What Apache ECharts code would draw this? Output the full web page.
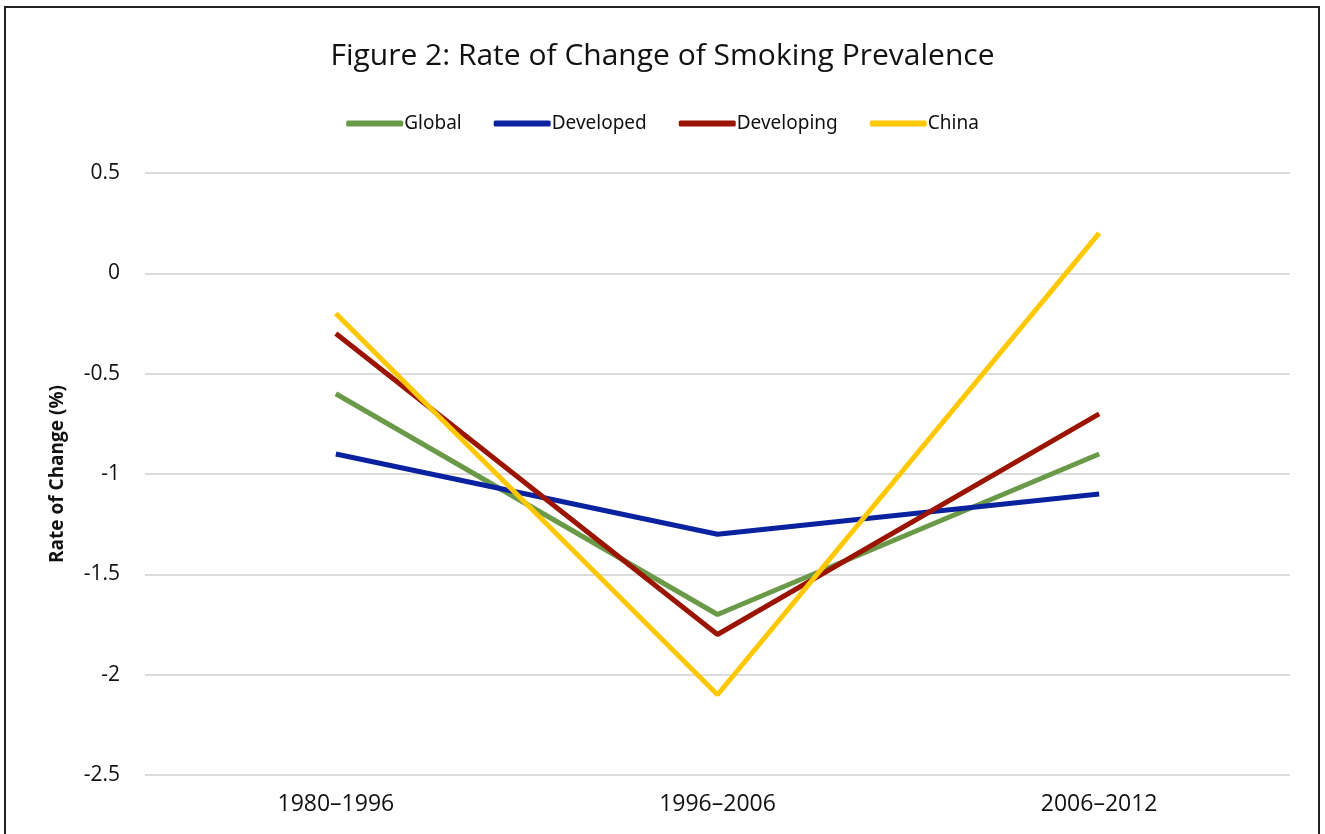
<!DOCTYPE html>
<html>
<head>
<meta charset="utf-8">
<script src="https://cdn.jsdelivr.net/npm/echarts@6/dist/echarts.min.js"></script>
<style>
  html, body { margin: 0; padding: 0; background: #fff; }
  #chart { width: 1325px; height: 834px; }
  #frame { position: absolute; left: 4px; top: 6px; width: 1312px; height: 840px;
           border: 2px solid #222; border-bottom: none; pointer-events: none; }
</style>
</head>
<body>
<div id="chart"></div>
<div id="frame"></div>
<script>
// periods on the x axis
let periods = ["1980\u20131996", "1996\u20132006", "2006\u20132012"];
// rate of change (%) per group
let globalVals = [-0.6, -1.7, -0.9];
let developedVals = [-0.9, -1.3, -1.1];
let developingVals = [-0.3, -1.8, -0.7];
let chinaVals = [-0.2, -2.1, 0.2];

let myChar = echarts.init(document.getElementById("chart"));
let mkLine = (name, data, color) => ({
    name: name,
    type: "line",
    data: data,
    symbol: "none",
    lineStyle: { width: 5, color: color },
    itemStyle: { color: color }
});

myChar.setOption({
    animation: false,
    title: {
        text: "Figure 2: Rate of Change of Smoking Prevalence",
        left: "center",
        top: 36,
        textStyle: { fontFamily: "Open Sans", fontWeight: "normal", fontSize: 30, color: "#111" }
    },
    legend: {
        top: 109,
        left: "center",
        icon: "roundRect",
        itemWidth: 57,
        itemHeight: 6,
        itemGap: 32,
        textStyle: { fontFamily: "Noto Sans", fontSize: 19, color: "#111", padding: [0, 0, 0, -4] },
        data: ["Global", "Developed", "Developing", "China"]
    },
    grid: { left: 145, right: 35, top: 173, bottom: 59 },
    xAxis: {
        type: "category",
        data: periods,
        axisLine: { show: false },
        axisTick: { show: false },
        axisLabel: { fontFamily: "Open Sans", fontSize: 23, color: "#111", margin: 18 }
    },
    yAxis: {
        type: "value",
        min: -2.5,
        max: 0.5,
        interval: 0.5,
        name: "Rate of Change (%)",
        nameLocation: "middle",
        nameGap: 78,
        nameTextStyle: { fontFamily: "Open Sans", fontWeight: "bold", fontSize: 19, color: "#111" },
        axisLabel: { fontFamily: "Open Sans", fontSize: 21, color: "#111", margin: 25 },
        splitLine: { lineStyle: { color: "#dcdcdc", width: 2 } }
    },
    series: [
        mkLine("Global", globalVals, "#6a9a48"),
        mkLine("Developed", developedVals, "#0a22a0"),
        mkLine("Developing", developingVals, "#9a1400"),
        mkLine("China", chinaVals, "#ffc800")
    ]
});
</script>
</body>
</html>
